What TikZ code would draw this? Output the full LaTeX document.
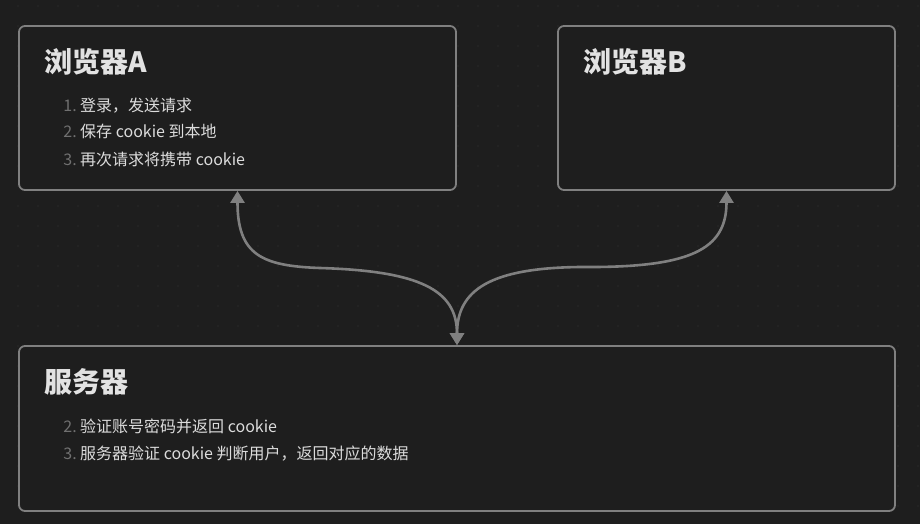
\documentclass[tikz,border=0pt]{standalone}
\usepackage{fontspec}
\setmainfont{Noto Sans CJK SC}
\usetikzlibrary{arrows.meta}
\definecolor{bgc}{HTML}{1E1E1E}
\definecolor{dotc}{HTML}{2A2A2A}
\definecolor{edgec}{HTML}{808080}
\definecolor{titlec}{HTML}{E2E2E2}
\definecolor{textc}{HTML}{DCDCDC}
\definecolor{numc}{HTML}{707070}
\tikzset{
  panel/.style={draw=edgec, line width=1.8pt, fill=bgc, rounded corners=6pt, inner sep=0pt},
  ttl/.style={anchor=base west, inner sep=0pt, text=titlec, font=\fontsize{28}{32}\selectfont\bfseries},
  item/.style={anchor=base west, inner sep=0pt, text=textc, font=\fontsize{16}{19}\selectfont},
  num/.style={anchor=base east, inner sep=0pt, text=numc, font=\fontsize{16}{19}\selectfont},
  conn/.style={draw=edgec, line width=2.6pt, {Triangle[width=14pt,length=12pt]}-{Triangle[width=14pt,length=12pt]}},
}
\begin{document}
\begin{tikzpicture}[x=1pt,y=-1pt]
\fill[bgc] (0,0) rectangle (920,524);
\useasboundingbox (0,0) rectangle (920,524);
\foreach \x in {18,38,...,918} {
  \foreach \y in {6,26,...,518} {
    \fill[dotc] (\x,\y) circle (0.9pt);
  }
}
\node[panel, minimum width=437pt, minimum height=164pt] (A) at (237.5,108) {};
\node[panel, minimum width=337pt, minimum height=164pt] (B) at (726.5,108) {};
\node[panel, minimum width=876pt, minimum height=165pt] (S) at (457,428.5) {};

\node[ttl] (tA) at (44,73) {浏览器A};
\node[num] (nA1) at (77,111) {1.};
\node[item] (iA1) at (80,111) {登录，发送请求};
\node[num] (nA2) at (77,138) {2.};
\node[item] (iA2) at (80,138) {保存 cookie 到本地};
\node[num] (nA3) at (77,165) {3.};
\node[item] (iA3) at (80,165) {再次请求将携带 cookie};

\node[ttl] (tB) at (583,73) {浏览器B};

\node[ttl] (tS) at (44,392) {服务器};
\node[num] (nS1) at (77,432) {2.};
\node[item] (iS1) at (80,432) {验证账号密码并返回 cookie};
\node[num] (nS2) at (77,459) {3.};
\node[item] (iS2) at (80,459) {服务器验证 cookie 判断用户，返回对应的数据};

\draw[conn] (A.south) .. controls (237.5,255) and (262,266) .. (320,268)
  .. controls (420,271) and (457,290) .. (S.north);
\draw[conn] (S.north) .. controls (457,290) and (490,268) .. (580,267)
  .. controls (690,268) and (726.5,250) .. (B.south);
\end{tikzpicture}
\end{document}
